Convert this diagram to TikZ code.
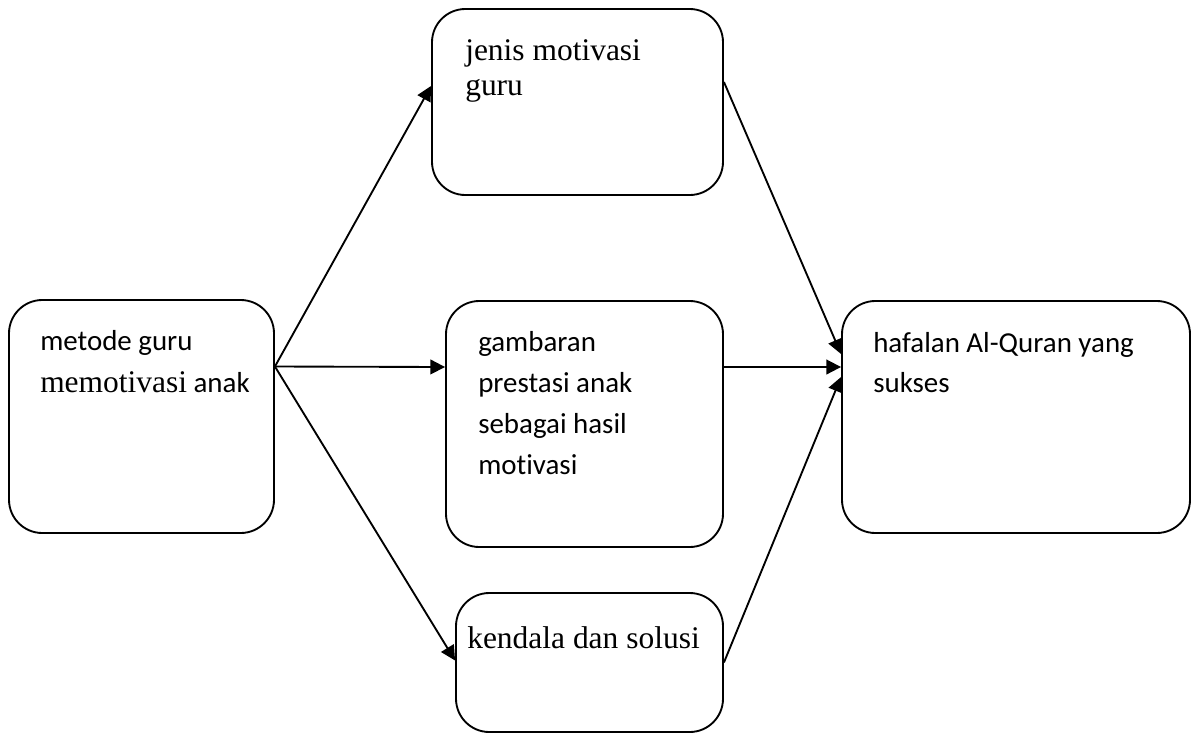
\documentclass[tikz,border=0pt]{standalone}
\usepackage{fontspec}
\setmainfont{Liberation Serif}
\newfontfamily\calibri[Ligatures=NoCommon]{Carlito}
\usetikzlibrary{arrows.meta,calc}

\begin{document}
\begin{tikzpicture}[x=0.75pt,y=-0.75pt,
		box/.style={draw,line width=1.4pt,rounded corners=25pt,inner sep=0pt},
		txt/.style={anchor=base west,inner sep=0pt},
		arr/.style={line width=1.4pt,-{Triangle[length=11pt,width=11pt]}}]
		\useasboundingbox (0,0) rectangle (1192,733);

		% Boxes
		\node[box,minimum width=198.75pt,minimum height=174.75pt] (metode) at (141.5,416.5) {};
		\node[box,minimum width=218.25pt,minimum height=139.5pt] (jenis) at (577.5,102) {};
		\node[box,minimum width=207.75pt,minimum height=184.5pt] (gambaran) at (584.5,424) {};
		\node[box,minimum width=200.25pt,minimum height=104.25pt] (kendala) at (589.5,662.5) {};
		\node[box,minimum width=261pt,minimum height=174pt] (hafalan) at (1016,417) {};

		% Texts
		\node[txt] (tmetode) at (40,350) {\parbox[t]{250pt}{\fontsize{21.7}{31.5}\selectfont
				{\calibri metode guru}\\{\fontsize{23.6}{31.5}\selectfont memotivasi}{\calibri\ anak}}};
		\node[txt] (tjenis) at (465,60) {\parbox[t]{250pt}{\fontsize{23.6}{26.25}\selectfont
				jenis motivasi\\guru}};
		\node[txt] (tgambaran) at (478,351) {\parbox[t]{250pt}{\calibri\fontsize{21.7}{30.75}\selectfont
				gambaran\\prestasi anak\\sebagai hasil\\motivasi}};
		\node[txt] (tkendala) at (467,648) {\fontsize{23.6}{26.25}\selectfont kendala dan solusi};
		\node[txt] (thafalan) at (873,352) {\parbox[t]{300pt}{\calibri\fontsize{21.7}{30}\selectfont
				hafalan Al-Quran yang\\sukses}};

		% Arrows out of the first box
		\draw[arr] ($(metode.east)+(0,-50)$) -- ($(jenis.west)+(0,-16)$);
		\draw[arr] ($(metode.east)+(0,-50)$) -- ($(gambaran.west)+(0,-57)$);
		\draw[arr] ($(metode.east)+(0,-50)$) -- ($(kendala.west)+(0,-2)$);

		% Arrows into the last box
		\draw[arr] ($(jenis.east)+(0,-20)$) -- ($(hafalan.west)+(0,-63)$);
		\draw[arr] ($(gambaran.east)+(0,-57)$) -- ($(hafalan.west)+(0,-50)$);
		\draw[arr] (kendala.east) -- ($(hafalan.west)+(0,-40)$);

	\end{tikzpicture}
\end{document}
